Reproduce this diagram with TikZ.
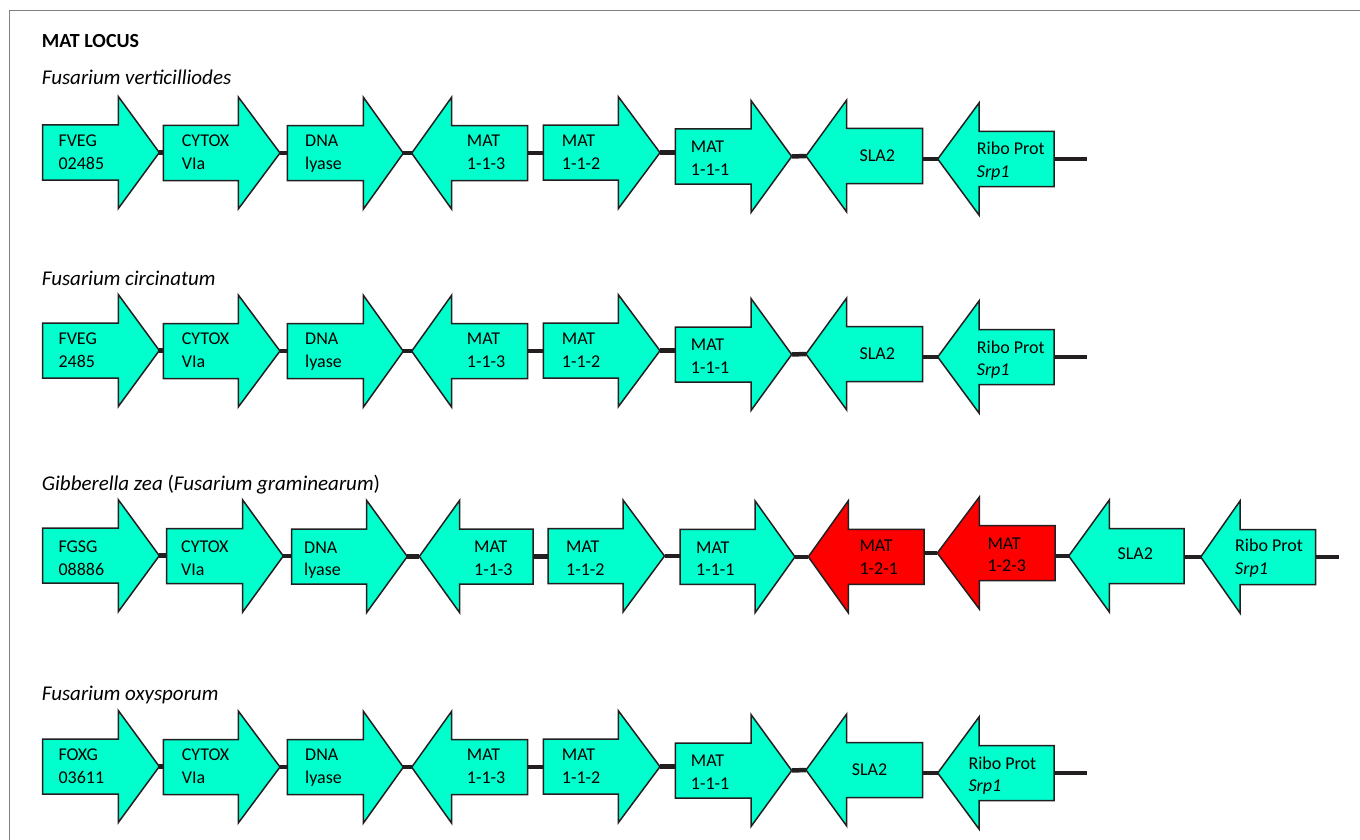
\documentclass[tikz,border=0pt]{standalone}
\usepackage{fontspec}
\setmainfont{Carlito}
\pgfdeclarelayer{paper}
\pgfdeclarelayer{wires}
\pgfsetlayers{paper,wires,main}
\definecolor{genecyan}{HTML}{00FFCC}
\definecolor{genered}{HTML}{FF0000}
\definecolor{ink}{HTML}{231F20}
\definecolor{framegray}{HTML}{808080}
\tikzset{
  gene/.style={draw=ink, line width=1.5pt, line join=miter, fill=genecyan},
  mattwo/.style={gene, fill=genered},
  link/.style={draw=ink, line width=4.5pt},
  lab/.style={anchor=base west, inner sep=0pt, font=\fontsize{18}{22.6}\selectfont},
  species/.style={anchor=base west, inner sep=0pt, font=\fontsize{21}{25}\selectfont\itshape},
  titlestyle/.style={anchor=base west, inner sep=0pt, font=\fontsize{20}{24}\selectfont\bfseries},
  frameline/.style={draw=framegray, line width=1.5pt}
}
% right-pointing gene: style, name, xback, xhead, xtip, ycentre
\newcommand\geneR[6][gene]{%
  \draw[#1] (#3,#6-27.5) -- (#4,#6-27.5) -- (#4,#6-56) -- (#5,#6) -- (#4,#6+56) -- (#4,#6+27.5) -- (#3,#6+27.5) -- cycle;
  \coordinate (#2-l) at (#3,#6);
  \coordinate (#2-r) at (#5,#6);}
% left-pointing gene: style, name, xback, xhead, xtip, ycentre
\newcommand\geneL[6][gene]{%
  \draw[#1] (#3,#6-27.5) -- (#4,#6-27.5) -- (#4,#6-56) -- (#5,#6) -- (#4,#6+56) -- (#4,#6+27.5) -- (#3,#6+27.5) -- cycle;
  \coordinate (#2-l) at (#5,#6);
  \coordinate (#2-r) at (#3,#6);}
\newcommand\twol[2]{\vtop{\baselineskip=22.6pt\hbox{#1}\hbox{#2}}}
% standard row: prefix, dy, species y, species, label1 line1, label1 line2, SLA2 x, Ribo x
\newcommand\stdrow[8]{%
  \node[species] (#1sp) at (41.7,#3) {#4};
  \geneR{#1a1}{42.7}{118.3}{159.3}{152.5+#2}
  \geneR{#1a2}{163.3}{238.3}{280}{153+#2}
  \geneR{#1a3}{287.3}{363.3}{403.3}{153.2+#2}
  \geneL{#1a4}{527.7}{451.7}{411.7}{153.2+#2}
  \geneR{#1a5}{543.3}{618.3}{660}{152.7+#2}
  \geneR{#1a6}{675.3}{751}{791.7}{156.5+#2}
  \geneL{#1a7}{922.7}{846.7}{806}{156+#2}
  \geneL{#1a8}{1054}{979}{937.7}{159+#2}
  \coordinate (#1end) at (1087.3,159+#2);
  \begin{pgfonlayer}{wires}
    \draw[link] (#1a1-r) -- (#1a1-r -| #1a2-l);
    \draw[link] (#1a2-r) -- (#1a2-r -| #1a3-l);
    \draw[link] (#1a3-r) -- (#1a4-l);
    \draw[link] (#1a4-r) -- (#1a4-r -| #1a5-l);
    \draw[link] (#1a5-r) -- (#1a5-r -| #1a6-l);
    \draw[link] (#1a6-r) -- (#1a7-l);
    \draw[link] (#1a7-r |- #1a8-l) -- (#1a8-l);
    \draw[link] (#1a8-r) -- (#1end);
  \end{pgfonlayer}
  \node[lab] (#1t1) at (58.3,146.7+#2) {\twol{#5}{#6}};
  \node[lab] (#1t2) at (181.7,146.7+#2) {\twol{CYTOX}{VIa}};
  \node[lab] (#1t3) at (305,146.7+#2) {\twol{DNA}{lyase}};
  \node[lab] (#1t4) at (466.7,146.7+#2) {\twol{MAT}{1-1-3}};
  \node[lab] (#1t5) at (561.7,146.7+#2) {\twol{MAT}{1-1-2}};
  \node[lab] (#1t6) at (690.7,152.7+#2) {\twol{MAT}{1-1-1}};
  \node[lab] (#1t7) at (#7,161.7+#2) {SLA2};
  \node[lab] (#1t8) at (#8,155+#2) {\twol{Ribo Prot}{\textit{Srp1}}};
}
\begin{document}
\begin{tikzpicture}[x=1pt,y=-1pt]
\useasboundingbox (0,0) rectangle (1360,840);
\begin{pgfonlayer}{paper}
\fill[white] (0,0) rectangle (1360,840);
\end{pgfonlayer}
\coordinate (fb) at (9.5,840);
\coordinate (fc) at (9.5,10.5);
\coordinate (fr) at (1360,10.5);
\draw[frameline] (fb) -- (fc) -- (fr);

\node[titlestyle] (title) at (41.7,47.3) {MAT LOCUS};

\stdrow{r1}{0}{85}{Fusarium verticilliodes}{FVEG}{02485}{859.3}{976.7}
\stdrow{r2}{198}{285}{Fusarium circinatum}{FVEG}{2485}{859.3}{976.7}
\stdrow{r4}{614}{700.7}{Fusarium oxysporum}{FOXG}{03611}{851.7}{968.3}

% row 3: Gibberella zea
\node[species] (r3sp) at (41.7,490.7) {Gibberella zea \upshape(\itshape Fusarium graminearum\upshape)};
\geneR{r3a1}{42.7}{118.3}{159.3}{555.7}
\geneR{r3a2}{166.7}{242.7}{283.3}{556}
\geneR{r3a3}{291.7}{366.7}{407.3}{556.5}
\geneL{r3a4}{533}{459.5}{419.3}{556.5}
\geneR{r3a5}{548}{623}{664.5}{556}
\geneR{r3a6}{680}{755}{795}{556.8}
\geneL[mattwo]{r3a7}{924}{848.3}{808.3}{556.8}
\geneL[mattwo]{r3a8}{1055}{979.3}{937.3}{553}
\geneL{r3a9}{1184}{1109.3}{1068.7}{556}
\geneL{r3a10}{1315.7}{1240}{1200.7}{557}
\coordinate (r3end) at (1339,557);
\begin{pgfonlayer}{wires}
  \draw[link] (r3a1-r) -- (r3a1-r -| r3a2-l);
  \draw[link] (r3a2-r) -- (r3a2-r -| r3a3-l);
  \draw[link] (r3a3-r) -- (r3a4-l);
  \draw[link] (r3a4-r) -- (r3a4-r -| r3a5-l);
  \draw[link] (r3a5-r) -- (r3a5-r -| r3a6-l);
  \draw[link] (r3a6-r) -- (r3a7-l);
  \draw[link] (r3a7-r |- r3a8-l) -- (r3a8-l);
  \draw[link] (r3a8-r |- r3a9-l) -- (r3a9-l);
  \draw[link] (r3a9-r |- r3a10-l) -- (r3a10-l);
  \draw[link] (r3a10-r) -- (r3end);
\end{pgfonlayer}
\node[lab] (r3t1) at (58.3,552.7) {\twol{FGSG}{08886}};
\node[lab] (r3t2) at (181,552.7) {\twol{CYTOX}{VIa}};
\node[lab] (r3t3) at (304,553.3) {\twol{DNA}{lyase}};
\node[lab] (r3t4) at (474,552.7) {\twol{MAT}{1-1-3}};
\node[lab] (r3t5) at (566,552.7) {\twol{MAT}{1-1-2}};
\node[lab] (r3t6) at (696,553) {\twol{MAT}{1-1-1}};
\node[lab] (r3t7) at (859.3,551.7) {\twol{MAT}{1-2-1}};
\node[lab] (r3t8) at (987.3,549) {\twol{MAT}{1-2-3}};
\node[lab] (r3t9) at (1117.3,559) {SLA2};
\node[lab] (r3t10) at (1235,551.7) {\twol{Ribo Prot}{\textit{Srp1}}};
\end{tikzpicture}
\end{document}
